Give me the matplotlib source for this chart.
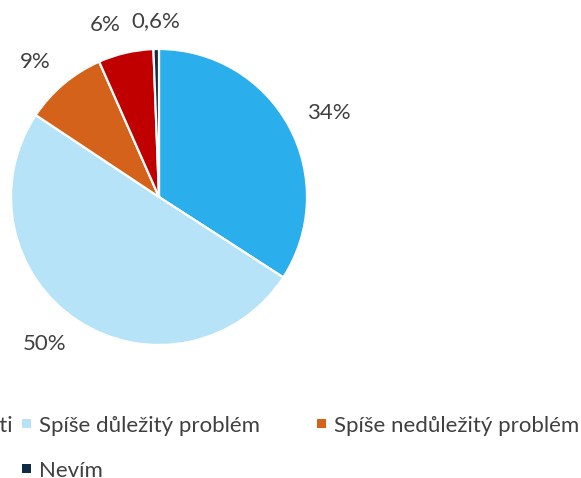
import numpy as np
import matplotlib
matplotlib.use("Agg")
import matplotlib.pyplot as plt
from matplotlib.patches import Rectangle

# podíly odpovědí (v %)
categories = [
    "Zásadní problém společnosti",
    "Spíše důležitý problém",
    "Spíše nedůležitý problém",
    "Zcela nedůležitý problém",
    "Nevím",
]
values = [34, 50, 9, 6, 0.6]
colors = ["#2BAEEC", "#B6E3F8", "#D4621A", "#C00000", "#0E2A45"]

plt.rcParams["font.family"] = ["Lato", "DejaVu Sans"]
text_color = "#404040"

fig = plt.figure(figsize=(5.81, 4.78), dpi=100)
W, H = 581, 478
cx, cy, r = 159, 197, 148
ax = fig.add_axes([(cx - r) / W, (H - cy - r) / H, 2 * r / W, 2 * r / H])

wedges, _ = ax.pie(
    values,
    colors=colors,
    startangle=90,
    counterclock=False,
    wedgeprops=dict(edgecolor="white", linewidth=1.6),
)
ax.set_xlim(-1, 1)
ax.set_ylim(-1, 1)
ax.set_aspect("equal")
ax.axis("off")

# popisky hodnot kolem výsečí
for w, v in zip(wedges, values):
    ang = np.deg2rad((w.theta1 + w.theta2) / 2)
    x, y = 1.14 * np.cos(ang), 1.19 * np.sin(ang)
    if abs(np.cos(ang)) < 0.1:
        ha = "center"
    elif x > 0:
        ha = "left"
    else:
        ha = "right"
    label = f"{v:g}".replace(".", ",") + "%"
    ax.text(x, y, label, ha=ha, va="center", fontsize=16, color=text_color)

# legenda po řádcích (3 sloupce), pozice v px od levého/horního okraje
col_x = [-283, 22, 317]
row_y = [423, 468]
box = 9
for i, (name, c) in enumerate(zip(categories, colors)):
    row, col = divmod(i, len(col_x))
    x, y = col_x[col], row_y[row]
    fig.patches.append(Rectangle(
        (x / W, (H - y - box / 2) / H), box / W, box / H,
        transform=fig.transFigure, facecolor=c, edgecolor="none"))
    fig.text((x + 17) / W, (H - y - 1) / H, name, ha="left", va="center_baseline",
             fontsize=16, color=text_color)

fig.savefig("out.png", dpi=100)
plt.close(fig)
